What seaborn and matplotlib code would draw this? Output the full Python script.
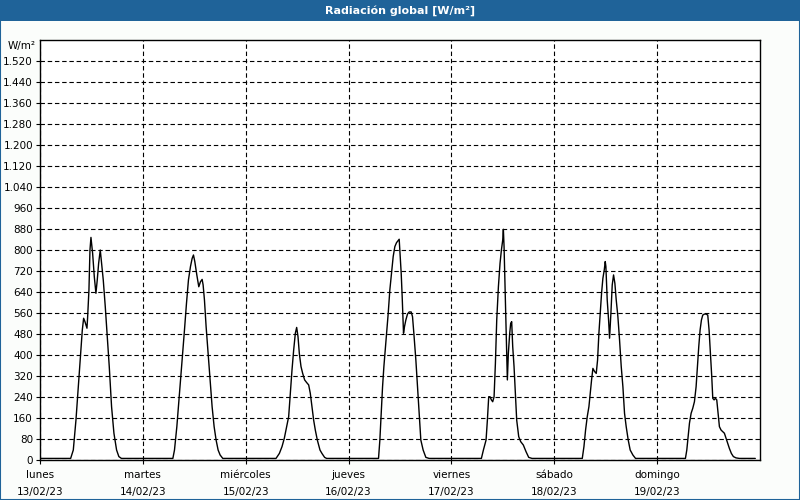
import matplotlib
matplotlib.use("Agg")
import matplotlib.pyplot as plt
import numpy as np
import pandas as pd
import seaborn as sns
from matplotlib.patches import Rectangle

# Day labels
day_names = ["lunes", "martes", "miércoles", "jueves", "viernes", "sábado", "domingo"]
day_dates = ["13/02/23", "14/02/23", "15/02/23", "16/02/23", "17/02/23", "18/02/23", "19/02/23"]

# Global radiation per day: hour of the day and W/m²
lun_h = [0, 7.15, 7.77, 8.39, 8.94, 9.48, 9.87, 10.18, 10.49, 10.96, 11.1, 11.42, 11.66, 11.89, 12.04, 12.28, 12.67, 13.05, 13.36, 13.68, 14.06, 14.3, 14.76, 15.23, 15.7, 16.16, 16.7, 17.25, 17.87, 18.4, 19.0]
lun_v = [6, 6, 38, 152, 279, 406, 495, 540, 527, 502, 540, 648, 800, 848, 825, 787, 698, 635, 686, 749, 800, 762, 686, 584, 470, 356, 203, 102, 38, 13, 6]

mar_h = [0, 7.0, 7.38, 7.93, 8.55, 9.17, 9.71, 10.18, 10.64, 11.11, 11.5, 11.81, 12.12, 12.59, 13.05, 13.44, 13.83, 14.06, 14.37, 14.76, 15.23, 15.7, 16.16, 16.63, 17.09, 17.56, 18.03, 18.65]
mar_v = [6, 6, 38, 127, 254, 381, 495, 597, 686, 737, 768, 781, 756, 705, 660, 679, 688, 667, 610, 508, 406, 305, 203, 127, 76, 38, 19, 6]

mie_h = [0, 7.07, 7.85, 8.47, 9.01, 9.56, 10.02, 10.41, 10.8, 11.19, 11.58, 11.89, 12.2, 12.51, 12.9, 13.29, 13.75, 14.22, 14.69, 15.07, 15.46, 15.85, 16.24, 16.71, 17.33, 17.79, 18.41, 18.88]
mie_v = [6, 6, 25, 51, 83, 127, 165, 254, 343, 419, 483, 505, 470, 406, 356, 330, 305, 295, 286, 254, 203, 152, 114, 76, 38, 25, 10, 6]

jue_h = [0, 6.99, 7.3, 7.61, 7.93, 8.24, 8.55, 8.86, 9.25, 9.63, 10.02, 10.41, 10.8, 11.19, 11.66, 11.81, 12.04, 12.28, 12.51, 12.82, 13.05, 13.36, 13.75, 14.14, 14.61, 14.92, 15.23, 15.7, 16.08, 16.47, 16.86, 17.4, 18.03, 18.8]
jue_v = [6, 6, 76, 178, 279, 356, 419, 483, 559, 648, 711, 775, 813, 828, 838, 841, 775, 711, 622, 483, 508, 533, 556, 564, 564, 546, 483, 381, 279, 178, 76, 38, 10, 6]

vie_h = [0, 6.99, 7.46, 8.08, 8.39, 8.7, 9.01, 9.32, 9.63, 9.95, 10.26, 10.57, 10.96, 11.34, 11.66, 11.97, 12.12, 12.28, 12.51, 12.82, 13.05, 13.28, 13.6, 13.83, 14.06, 14.3, 14.61, 14.92, 15.23, 15.7, 16.16, 16.78, 17.4, 18.03, 18.8]
vie_v = [6, 6, 38, 76, 152, 241, 241, 229, 222, 241, 368, 533, 660, 749, 800, 838, 879, 813, 660, 470, 305, 406, 483, 521, 527, 432, 356, 254, 152, 89, 70, 57, 32, 10, 6]

sab_h = [0, 6.53, 6.92, 7.3, 7.69, 8.08, 8.39, 8.7, 9.01, 9.4, 9.79, 10.1, 10.41, 10.72, 11.03, 11.34, 11.66, 11.89, 12.04, 12.35, 12.67, 12.9, 13.21, 13.52, 13.83, 14.14, 14.45, 14.84, 15.23, 15.62, 16.01, 16.39, 16.78, 17.25, 17.71, 18.34, 18.96]
sab_v = [6, 6, 51, 114, 165, 203, 254, 305, 349, 337, 330, 381, 483, 559, 635, 692, 724, 756, 737, 610, 533, 464, 559, 667, 705, 673, 610, 546, 457, 356, 279, 178, 127, 76, 38, 19, 6]

dom_h = [0, 6.6, 6.92, 7.23, 7.54, 7.93, 8.31, 8.7, 9.09, 9.4, 9.71, 10.02, 10.33, 10.64, 11.03, 11.42, 11.81, 12.12, 12.43, 12.74, 12.98, 13.29, 13.6, 13.91, 14.22, 14.53, 14.92, 15.3, 15.69, 16.08, 16.47, 16.86, 17.32, 17.79, 18.41, 19.19, 22.9]
dom_v = [6, 6, 38, 89, 140, 178, 197, 222, 279, 356, 432, 495, 533, 552, 556, 556, 552, 495, 406, 318, 235, 229, 235, 229, 178, 127, 114, 108, 102, 83, 64, 44, 25, 13, 8, 6, 6]

y_ticks = list(range(0, 1600, 80))

# Join the days into one series of hours since Monday 00:00
days = [(lun_h, lun_v), (mar_h, mar_v), (mie_h, mie_v), (jue_h, jue_v), (vie_h, vie_v), (sab_h, sab_v), (dom_h, dom_v)]
frames = []
for i, (h, v) in enumerate(days):
	frames.append(pd.DataFrame({ "hora": np.array(h) + 24 * i, "radiacion": v }))
df = pd.concat(frames, ignore_index = True)

sns.set_style("white")
plt.rcParams["font.family"] = ["DejaVu Sans"]
plt.rcParams["text.color"] = "black"
plt.rcParams["xtick.color"] = "black"
plt.rcParams["ytick.color"] = "black"

blue = "#1f6399"
fig = plt.figure(figsize = (8, 5), dpi = 100, facecolor = "#fbfdfb")
ax = fig.add_axes([40 / 800, 40 / 500, 720 / 800, 420 / 500])
ax.set_facecolor("white")

sns.lineplot(data = df, x = "hora", y = "radiacion", color = "black", linewidth = 1, estimator = None, ax = ax)

ax.set_xlim(0, 168)
ax.set_ylim(0, 1600)
ax.set_xticks([24 * i for i in range(7)])
ax.set_xticklabels(["%s\n%s" % (n, d) for n, d in zip(day_names, day_dates)], fontsize = 7.5, linespacing = 1.85)
ax.set_yticks(y_ticks)
ax.set_yticklabels([f"{v:,}".replace(",", ".") for v in y_ticks], fontsize = 7.5)
ax.set(xlabel = None, ylabel = None)
ax.tick_params(axis = "x", pad = 4)
ax.tick_params(direction = "out", length = 3, width = 0.8, colors = "black", left = True, bottom = True)
ax.tick_params(axis = "y", pad = 2)
ax.grid(True, color = "black", linestyle = (0, (4, 2.5)), linewidth = 0.8)
for s in ax.spines.values():
	s.set_color("black")
	s.set_linewidth(1)

# Title bar, frame and unit label
fig.add_artist(Rectangle((0, 1 - 21 / 500), 1, 21 / 500, transform = fig.transFigure, facecolor = blue, edgecolor = "none"))
fig.add_artist(Rectangle((0, 0), 1, 1, transform = fig.transFigure, fill = False, edgecolor = blue, linewidth = 1.5))
fig.text(0.5, 1 - 10.5 / 500, "Radiación global [W/m²]", ha = "center", va = "center", color = "white", fontweight = "bold", fontsize = 8)
fig.text(36 / 800, 1 - 46 / 500, "W/m²", ha = "right", va = "center", fontsize = 7.5, color = "black")

plt.savefig("out.png", dpi = 100, facecolor = fig.get_facecolor())
plt.close()
